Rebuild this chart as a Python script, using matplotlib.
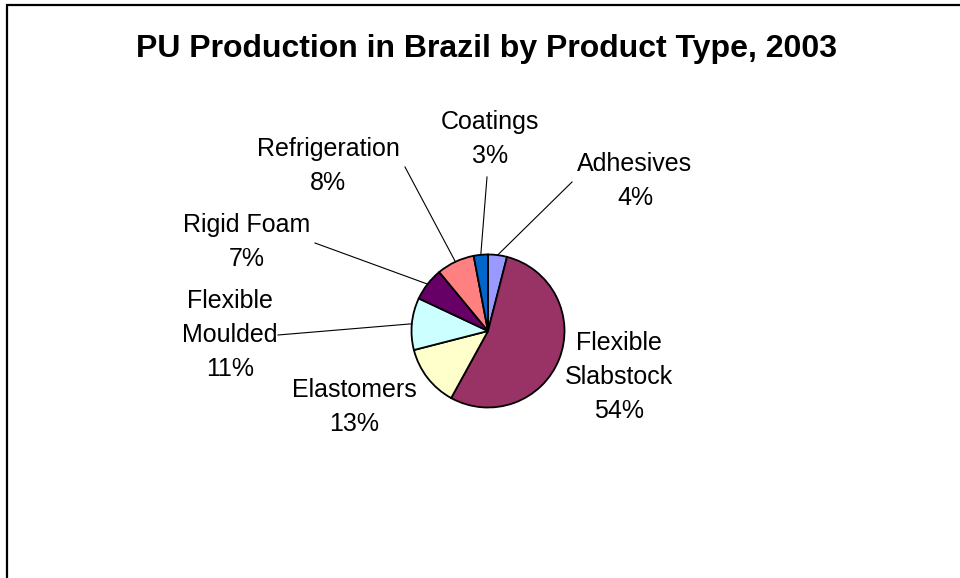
import numpy as np
import matplotlib
matplotlib.use('Agg')
import matplotlib.pyplot as plt
from matplotlib.patches import Rectangle

# data
products = ['Adhesives', 'Flexible\nSlabstock', 'Elastomers', 'Flexible\nMoulded',
            'Rigid Foam', 'Refrigeration', 'Coatings']
shares = [4, 54, 13, 11, 7, 8, 3]
colors = ['#9999FF', '#993366', '#FFFFCC', '#CCFFFF', '#660066', '#FF8080', '#0066CC']

# layout in pixels (x right, y down), label block centres and leader end points
label_pos = [(635, 181), (619, 377), (354, 407), (230, 335), (247, 242), (328, 166), (490, 139)]
leader_end = [(572, 182), None, None, (278, 335), (315, 243), (405, 167), (487, 177)]

W, H = 960, 578
plt.rcParams['font.family'] = ['Liberation Sans', 'DejaVu Sans']

fig = plt.figure(figsize=(9.6, 5.78), dpi=100)
ax = fig.add_axes([0, 0, 1, 1])

cx, cy, r = 488, 331, 76.5
wedges, _ = ax.pie(shares, colors=colors, startangle=90, counterclock=False,
                   center=(cx, H - cy), radius=r,
                   wedgeprops=dict(edgecolor='black', linewidth=1.3))
ax.set_aspect('auto')
ax.set_xlim(0, W)
ax.set_ylim(0, H)
ax.axis('off')

total = sum(shares)
for w, name, val, (lx, ly), end in zip(wedges, products, shares, label_pos, leader_end):
    pct = round(100 * val / total)
    ax.text(lx, H - ly, name + '\n' + str(pct) + '%', ha='center', va='center',
            multialignment='center', fontsize=18, linespacing=1.5)
    if end is not None:
        mid = np.deg2rad((w.theta1 + w.theta2) / 2)
        sx = cx + r * np.cos(mid)
        sy = H - cy + r * np.sin(mid)
        ax.plot([sx, end[0]], [sy, H - end[1]], color='black', linewidth=0.8)

ax.text(486.5, H - 57, 'PU Production in Brazil by Product Type, 2003', ha='center',
        va='baseline', fontsize=23, fontweight='bold')

# chart frame (right and bottom sides fall outside the picture)
ax.add_patch(Rectangle((7, -20), 980, H - 5 + 20, fill=False, edgecolor='black',
                       linewidth=1.6, clip_on=False))

fig.savefig('out.png', dpi=100)
